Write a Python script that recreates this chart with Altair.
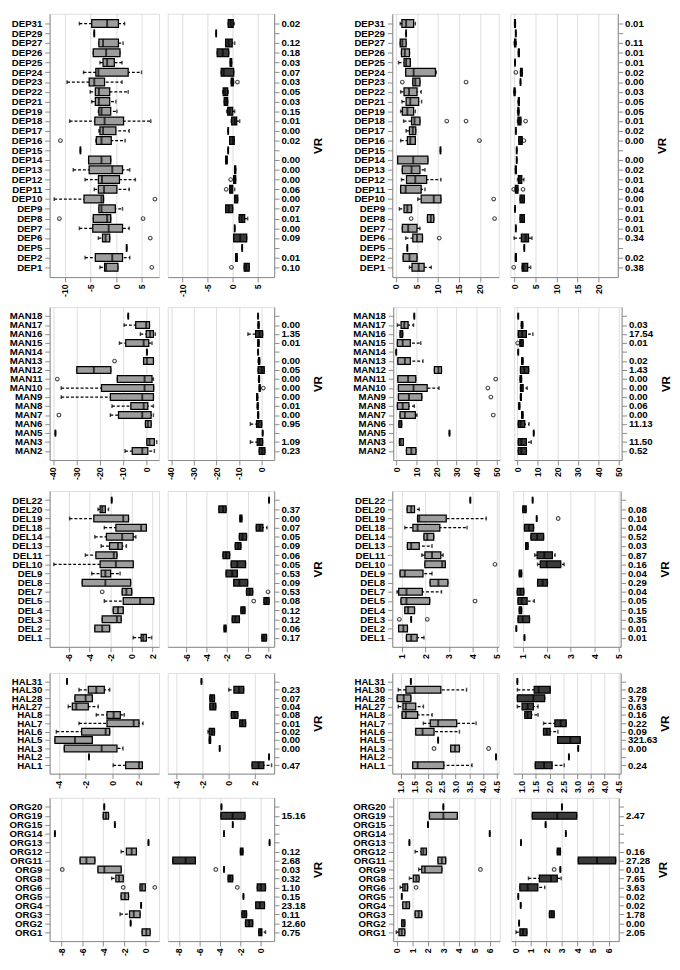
import altair as alt
import pandas as pd

FONT = "Liberation Sans"

# ---------------- DEP ----------------
DEP_CATS = ["DEP31", "DEP29", "DEP27", "DEP26", "DEP25", "DEP24", "DEP23", "DEP22", "DEP21",
            "DEP19", "DEP18", "DEP17", "DEP16", "DEP15", "DEP14", "DEP13", "DEP12", "DEP11",
            "DEP10", "DEP9", "DEP8", "DEP7", "DEP6", "DEP5", "DEP2", "DEP1"]
DEP_VR_A = ["0.02", "", "0.12", "0.18", "0.03", "0.07", "0.03", "0.05", "0.03", "0.15", "0.01",
            "0.00", "0.02", "", "0.00", "0.00", "0.00", "0.06", "0.00", "0.07", "0.01", "0.00",
            "0.09", "", "0.01", "0.10"]
DEP_VR_B = ["0.01", "", "0.11", "0.01", "0.01", "0.02", "0.00", "0.03", "0.05", "0.05", "0.01",
            "0.02", "0.00", "", "0.00", "0.02", "0.01", "0.04", "0.00", "0.01", "0.01", "0.01",
            "0.34", "", "0.02", "0.38"]
# each entry: [lower whisker, q1, median, q3, upper whisker]
DEP_A1 = [[-7.2, -4.8, -1.8, 0.4, 1.6], [-4.3, -4.3, -4.3, -4.3, -4.3], [-3.4, -3.4, -2.6, 0.4, 1.3],
          [-4.5, -4.5, -2.0, 0.7, 0.7], [-3.2, -2.6, -1.8, -0.4, 1.1], [-6.4, -4.0, -3.5, 2.3, 4.9],
          [-9.6, -5.3, -4.3, -2.3, 1.1], [-5.1, -4.1, -3.4, -1.3, 2.3], [-4.8, -4.1, -3.4, -1.3, -0.1],
          [-3.5, -3.4, -2.9, -1.1, 0.1], [-9.1, -4.2, -2.3, 1.4, 6.7], [-3.4, -3.2, -2.6, -0.1, 2.5],
          [-4.0, -3.9, -2.9, -1.0, 1.7], [-7.0, -7.0, -7.0, -7.0, -7.0], [-5.4, -5.4, -2.9, -1.1, -1.1],
          [-8.4, -5.3, -0.8, 1.2, 2.6], [-6.1, -3.5, -2.8, 0.6, 3.7], [-4.3, -3.5, -2.4, 0.1, 2.5],
          [-12.1, -6.3, -2.9, -2.5, -2.5], [-3.4, -3.4, -2.9, -0.2, 1.2], [-4.5, -4.5, -1.8, -1.1, -1.1],
          [-7.2, -4.6, -1.5, 1.2, 2.5], [-3.5, -2.7, -2.1, -1.3, -1.3], [2.0, 2.0, 2.0, 2.0, 2.0],
          [-6.1, -4.1, -0.8, 1.2, 2.6], [-3.2, -2.3, -2.0, 0.3, 0.3]]
DEP_A1_OUT = [("DEP16", -10.9), ("DEP10", 7.5), ("DEP8", -11.1), ("DEP8", 5.2), ("DEP6", 6.6), ("DEP1", 6.9)]
DEP_A2 = [[-0.9, -0.9, -0.4, 0.1, 0.3], [-3.3, -3.3, -3.3, -3.3, -3.3], [-1.4, -1.4, -0.8, -0.1, 0.4],
          [-3.1, -3.1, -2.0, -0.8, -0.8], [-0.5, -0.5, -0.4, -0.2, -0.2], [-2.3, -2.3, -1.8, 0.2, 0.2],
          [-0.3, -0.3, 0.0, 0.1, 0.2], [-2.0, -1.9, -1.5, -1.0, -0.9], [-1.7, -1.7, -1.3, -1.0, -1.0],
          [-1.2, -1.0, -0.6, 0.0, 0.4], [-0.3, -0.2, 0.4, 0.8, 1.4], [-0.9, -0.9, -0.9, -0.9, -0.9],
          [-0.6, -0.6, 0.0, 0.3, 0.3], [-0.9, -0.9, -0.9, -0.9, -0.9], [-1.4, -1.4, -1.2, -1.1, -1.1],
          [0.4, 0.4, 0.5, 0.6, 0.6], [0.2, 0.2, 0.4, 0.6, 0.6], [-0.6, -0.6, -0.3, 0.0, 0.4],
          [0.4, 0.4, 0.6, 1.0, 1.0], [-1.4, -1.4, -0.8, 0.0, 0.0], [1.3, 1.3, 1.8, 2.4, 3.0],
          [0.4, 0.4, 0.4, 0.4, 0.4], [0.2, 0.2, 1.5, 2.8, 2.8], [1.9, 1.9, 1.9, 1.9, 1.9],
          [0.6, 0.6, 0.7, 0.9, 0.9], [2.3, 2.3, 2.7, 3.3, 3.3]]
DEP_A2_OUT = [("DEP23", 0.95), ("DEP12", -0.4), ("DEP11", -1.3), ("DEP1", -0.25)]
DEP_B1 = [[1.0, 1.4, 2.4, 4.2, 4.6], [2.4, 2.4, 2.4, 2.4, 2.4], [1.0, 1.0, 1.5, 2.4, 2.4],
          [1.3, 1.3, 2.1, 3.2, 3.2], [0.6, 1.9, 2.4, 3.4, 3.4], [2.3, 2.3, 4.2, 9.4, 9.6],
          [4.0, 4.0, 4.6, 5.7, 5.7], [1.1, 1.9, 3.1, 5.0, 6.0], [1.4, 2.4, 3.4, 5.4, 6.1],
          [1.1, 1.5, 2.7, 4.2, 4.6], [1.8, 3.7, 4.4, 5.7, 5.7], [2.4, 3.2, 4.0, 4.7, 4.7],
          [1.1, 2.7, 3.4, 4.6, 4.6], [10.6, 10.6, 10.6, 10.6, 10.6], [0.4, 0.4, 4.1, 7.6, 7.6],
          [1.5, 1.5, 3.7, 5.7, 6.9], [1.3, 2.5, 4.6, 7.3, 10.7], [1.1, 1.1, 2.3, 6.0, 6.9],
          [5.2, 6.0, 9.0, 10.7, 10.7], [0.8, 1.9, 2.7, 3.7, 3.7], [7.5, 7.5, 8.3, 9.0, 9.0],
          [1.5, 1.5, 2.9, 5.0, 5.7], [2.3, 4.0, 5.0, 6.3, 6.3], [2.7, 2.7, 2.7, 2.7, 2.7],
          [1.7, 1.7, 3.2, 5.0, 5.0], [3.2, 3.8, 5.4, 6.7, 8.4]]
DEP_B1_OUT = [("DEP23", 1.5), ("DEP23", 16.7), ("DEP18", 12.1), ("DEP18", 16.7), ("DEP16", 19.9),
              ("DEP10", 23.3), ("DEP8", 3.6), ("DEP8", 23.5), ("DEP6", 10.3)]
DEP_B2 = [[0.1, 0.1, 0.2, 0.3, 0.3], [0.4, 0.4, 0.4, 0.4, 0.4], [0.0, 0.1, 0.2, 0.4, 0.5],
          [1.0, 1.0, 1.1, 1.2, 1.2], [0.2, 0.2, 0.2, 0.2, 0.2], [1.5, 1.5, 1.7, 1.9, 1.9],
          [1.5, 1.5, 1.5, 1.5, 1.5], [-0.1, 0.0, 0.1, 0.2, 0.3], [0.9, 1.0, 1.1, 1.2, 1.2],
          [0.8, 0.9, 1.0, 1.1, 1.2], [0.8, 0.9, 1.2, 1.6, 1.6], [0.4, 0.4, 0.4, 0.4, 0.4],
          [1.1, 1.1, 1.5, 1.9, 1.9], [0.6, 0.6, 0.6, 0.6, 0.6], [0.6, 0.6, 0.6, 0.6, 0.6],
          [0.3, 0.3, 0.4, 0.5, 0.5], [0.8, 1.0, 1.3, 1.8, 2.3], [0.2, 0.3, 0.6, 0.9, 0.9],
          [1.4, 1.4, 1.9, 2.4, 2.4], [0.2, 0.2, 0.2, 0.2, 0.2], [1.4, 1.4, 1.9, 2.4, 2.4],
          [0.4, 0.4, 0.4, 0.4, 0.4], [0.0, 1.7, 2.7, 3.4, 4.2], [2.4, 2.4, 2.4, 2.4, 2.4],
          [0.3, 0.3, 0.4, 0.5, 0.5], [1.9, 1.9, 2.2, 3.2, 3.9]]
DEP_B2_OUT = [("DEP24", 0.4), ("DEP18", 2.7), ("DEP16", 2.3), ("DEP11", -0.1), ("DEP11", 2.1), ("DEP1", -0.1)]

# ---------------- MAN ----------------
MAN_CATS = ["MAN18", "MAN17", "MAN16", "MAN15", "MAN14", "MAN13", "MAN12", "MAN11", "MAN10",
            "MAN9", "MAN8", "MAN7", "MAN6", "MAN5", "MAN3", "MAN2"]
MAN_VR_A = ["", "0.00", "1.35", "0.01", "", "0.00", "0.05", "0.00", "0.00", "0.00", "0.01", "0.00",
            "0.95", "", "1.09", "0.23"]
MAN_VR_B = ["", "0.03", "17.54", "0.01", "", "0.02", "1.43", "0.00", "0.00", "0.00", "0.06", "0.00",
            "11.13", "", "11.50", "0.52"]
MAN_A1 = [[-7.7, -7.7, -7.7, -7.7, -7.7], [-9.5, -4.5, 0.0, 1.4, 1.4], [-2.5, 0.0, 1.7, 3.1, 3.9],
          [-11.5, -8.8, -1.1, 1.1, 2.5], [0.3, 0.3, 0.3, 0.3, 0.3], [-1.1, -1.1, 0.3, 3.1, 3.1],
          [-29.8, -29.8, -22.5, -15.2, -15.2], [-12.4, -12.4, -0.7, 2.5, 3.1], [-36.5, -19.2, -0.7, 3.2, 3.2],
          [-36.5, -15.4, -1.7, 3.1, 3.1], [-14.7, -6.6, -1.1, 0.7, 3.1], [-15.4, -11.9, -1.7, 2.1, 3.1],
          [-0.3, -0.3, 0.7, 2.1, 2.1], [-39.0, -39.0, -39.0, -39.0, -39.0], [0.3, 0.3, 1.4, 3.5, 4.5],
          [-9.1, -6.0, -1.7, 0.7, 3.5]]
MAN_A1_OUT = [("MAN13", -13.6), ("MAN11", -38.2), ("MAN7", -37.5)]
MAN_A2 = [[-1.6, -1.6, -1.6, -1.6, -1.6], [-1.6, -1.6, -1.4, -1.2, -1.2], [-6.1, -2.7, -1.0, 0.4, 0.4],
          [-1.7, -1.7, -1.5, -1.2, -1.2], [-1.6, -1.6, -1.6, -1.6, -1.6], [-1.6, -1.4, -1.2, -0.9, -0.9],
          [-1.6, -1.6, 0.0, 1.1, 1.1], [-1.4, -1.3, -1.2, -1.0, -1.0], [-1.1, -1.1, -0.9, -0.7, -0.7],
          [-2.2, -2.2, -2.0, -1.8, -1.8], [-2.0, -1.9, -1.8, -1.6, -1.5], [-1.8, -1.7, -1.6, -1.4, -1.4],
          [-5.0, -2.3, -1.5, 0.0, 0.0], [0.4, 0.4, 0.4, 0.4, 0.4], [-5.0, -2.0, -1.0, 0.4, 0.4],
          [-1.1, -1.1, 0.2, 1.4, 1.4]]
MAN_A2_OUT = [("MAN10", 0.7)]
MAN_B1 = [[9.0, 9.0, 9.0, 9.0, 9.0], [0.6, 2.4, 4.0, 5.9, 8.6], [1.9, 1.9, 2.5, 3.2, 3.2],
          [0.6, 0.6, 3.2, 7.0, 12.2], [0.0, 0.0, 0.0, 0.0, 0.0], [0.8, 0.8, 4.3, 7.0, 13.3],
          [19.0, 19.0, 21.0, 22.5, 22.5], [0.8, 0.8, 5.9, 9.7, 9.7], [1.1, 1.1, 8.6, 15.4, 21.3],
          [1.1, 1.1, 6.3, 12.7, 12.7], [0.6, 0.6, 3.2, 6.3, 9.0], [1.9, 1.9, 4.3, 9.5, 10.3],
          [1.3, 1.3, 1.9, 2.7, 2.7], [26.5, 26.5, 26.5, 26.5, 26.5], [1.6, 1.6, 2.2, 3.5, 3.5],
          [5.1, 5.1, 7.5, 9.8, 9.8]]
MAN_B1_OUT = [("MAN11", 49.5), ("MAN10", 45.6), ("MAN9", 47.1), ("MAN7", 48.3)]
MAN_B2 = [[0.5, 0.5, 0.5, 0.5, 0.5], [2.0, 2.0, 2.4, 2.7, 2.7], [0.5, 0.5, 2.4, 4.5, 7.7],
          [1.3, 1.3, 1.9, 2.9, 2.9], [0.5, 0.5, 0.5, 0.5, 0.5], [2.2, 2.2, 2.5, 2.8, 2.8],
          [1.6, 1.6, 3.5, 5.6, 5.6], [1.4, 1.4, 1.8, 2.1, 2.1], [1.6, 1.6, 2.1, 2.9, 4.9],
          [1.6, 1.6, 1.8, 2.0, 2.0], [0.8, 0.8, 1.0, 1.2, 1.2], [2.2, 2.2, 2.5, 2.8, 2.8],
          [0.5, 0.5, 1.6, 3.7, 5.8], [8.1, 8.1, 8.1, 8.1, 8.1], [0.5, 0.5, 2.0, 4.5, 6.9],
          [0.5, 0.5, 2.0, 4.5, 4.5]]
MAN_B2_OUT = [("MAN15", 0.2)]

# ---------------- DEL ----------------
DEL_CATS = ["DEL22", "DEL20", "DEL19", "DEL18", "DEL14", "DEL13", "DEL11", "DEL10", "DEL9",
            "DEL8", "DEL7", "DEL5", "DEL4", "DEL3", "DEL2", "DEL1"]
DEL_VR_A = ["", "0.37", "0.00", "0.07", "0.05", "0.09", "0.06", "0.05", "0.53", "0.09", "0.53",
            "0.08", "0.12", "0.12", "0.06", "0.17"]
DEL_VR_B = ["", "0.08", "0.10", "0.04", "0.52", "0.03", "0.87", "0.16", "0.04", "0.29", "0.04",
            "0.05", "0.15", "0.35", "0.01", "0.01"]
DEL_A1 = [[-1.9, -1.9, -1.9, -1.9, -1.9], [-3.2, -3.0, -2.8, -2.5, -2.2], [-5.9, -3.6, -0.8, -0.3, -0.3],
          [-2.6, -1.5, 0.9, 1.4, 1.4], [-3.5, -2.4, -0.9, 0.15, 0.4], [-2.9, -2.1, -1.3, -0.9, -0.5],
          [-4.4, -3.4, -1.7, -1.4, -1.4], [-7.4, -3.0, -1.5, 0.15, 0.15], [-3.8, -2.9, -2.5, -2.0, -1.1],
          [-4.7, -4.7, -2.5, -0.1, -0.1], [-0.9, -0.9, -0.5, 0.0, 0.0], [-2.6, -0.8, 0.8, 2.1, 2.1],
          [-1.75, -1.75, -1.3, -0.8, -0.8], [-2.8, -2.8, -1.4, -1.0, -1.0], [-3.5, -3.5, -2.8, -2.1, -2.1],
          [0.15, 0.9, 1.1, 1.4, 1.9]]
DEL_A1_OUT = [("DEL7", -2.8)]
DEL_A2 = [[2.1, 2.1, 2.1, 2.1, 2.1], [-2.8, -2.8, -2.4, -2.1, -2.1], [-0.75, -0.75, -0.65, -0.55, -0.55],
          [0.85, 0.85, 1.2, 1.5, 1.9], [-0.8, -0.8, -0.5, -0.1, -0.1], [-1.2, -1.2, -0.9, -0.65, -0.65],
          [-2.4, -2.4, -2.1, -1.75, -1.75], [-1.6, -1.6, -1.0, -0.2, -0.2], [-2.1, -2.1, -1.5, -1.0, -1.0],
          [-1.35, -1.35, -0.8, 0.0, 0.0], [-0.1, -0.1, 0.2, 0.5, 0.5], [1.6, 1.6, 1.85, 2.1, 2.1],
          [-0.65, -0.65, -0.45, -0.25, -0.25], [-1.5, -1.5, -1.2, -0.8, -0.8], [-2.3, -2.3, -2.2, -2.1, -2.1],
          [1.4, 1.4, 1.6, 1.85, 1.85]]
DEL_A2_OUT = [("DEL7", 2.0), ("DEL5", 0.6)]
DEL_B1 = [[3.9, 3.9, 3.9, 3.9, 3.9], [1.23, 1.23, 1.40, 1.54, 1.74], [1.67, 1.67, 1.74, 2.88, 4.57],
          [1.13, 1.47, 1.67, 2.61, 3.76], [1.94, 1.94, 2.08, 2.35, 2.35], [1.24, 1.24, 1.4, 1.74, 2.28],
          [1.85, 1.98, 2.28, 2.65, 2.75], [1.98, 1.98, 2.71, 2.84, 2.84], [0.93, 0.93, 1.13, 1.9, 2.28],
          [2.2, 2.2, 2.55, 2.95, 2.95], [0.8, 0.87, 1.2, 1.87, 2.68], [0.97, 0.97, 1.2, 2.18, 2.18],
          [1.13, 1.13, 1.27, 1.54, 1.54], [1.4, 1.4, 1.4, 1.4, 1.4], [0.87, 0.87, 1.07, 1.24, 1.24],
          [1.2, 1.2, 1.4, 1.65, 1.94]]
DEL_B1_OUT = [("DEL10", 4.94), ("DEL5", 4.1), ("DEL3", 0.9), ("DEL3", 2.08)]
DEL_B2 = [[1.41, 1.41, 1.41, 1.41, 1.41], [1.0, 1.0, 1.07, 1.14, 1.14], [1.58, 1.58, 1.58, 1.58, 1.58],
          [1.07, 1.07, 1.25, 1.45, 1.45], [1.34, 1.34, 1.6, 1.87, 1.87], [1.12, 1.12, 1.17, 1.22, 1.22],
          [1.5, 1.6, 1.9, 2.24, 2.35], [1.62, 1.73, 2.0, 2.59, 2.73], [0.85, 0.85, 0.9, 0.95, 0.95],
          [1.62, 1.62, 1.83, 2.03, 2.03], [0.77, 0.77, 0.9, 1.04, 1.04], [0.8, 0.8, 0.95, 1.18, 1.48],
          [0.85, 0.85, 0.9, 0.95, 0.95], [0.8, 0.8, 1.0, 1.28, 1.28], [0.73, 0.73, 0.73, 0.73, 0.73],
          [1.07, 1.07, 1.07, 1.07, 1.07]]
DEL_B2_OUT = [("DEL19", 2.48)]

# ---------------- HAL ----------------
HAL_CATS = ["HAL31", "HAL30", "HAL28", "HAL27", "HAL8", "HAL7", "HAL6", "HAL5", "HAL3", "HAL2", "HAL1"]
HAL_VR_A = ["", "0.23", "0.07", "0.04", "0.08", "0.01", "0.02", "0.00", "0.00", "", "0.47"]
HAL_VR_B = ["", "0.28", "3.79", "0.63", "0.16", "0.22", "0.09", "321.63", "0.00", "", "0.24"]
HAL_A1 = [[-3.4, -3.4, -3.4, -3.4, -3.4], [-2.5, -1.8, -1.2, -0.6, -0.2], [-2.8, -2.8, -2.0, -1.5, -1.5],
          [-3.3, -3.0, -2.7, -1.8, -1.05], [-1.2, -0.4, 0.1, 0.6, 0.9], [-2.5, -0.4, 1.6, 2.0, 2.3],
          [-4.2, -2.3, -0.5, -0.2, -0.2], [-4.3, -4.3, -2.8, -1.5, -1.5], [-3.6, -3.6, -0.8, 0.35, 0.8],
          [-1.75, -1.75, -1.75, -1.75, -1.75], [0.07, 1.0, 2.0, 2.25, 2.25]]
HAL_A1_OUT = []
HAL_A2 = [[-2.1, -2.1, -2.1, -2.1, -2.1], [0.0, 0.4, 0.8, 1.15, 1.15], [-1.45, -1.45, -1.3, -1.1, -1.1],
          [-1.45, -1.45, -1.2, -1.0, -1.0], [0.2, 0.2, 0.45, 0.7, 0.7], [0.85, 0.85, 1.05, 1.3, 1.3],
          [-1.6, -1.5, -1.3, -1.1, -1.1], [-1.5, -1.5, -1.45, -1.4, -1.4], [-0.7, -0.7, -0.7, -0.7, -0.7],
          [3.1, 3.1, 3.1, 3.1, 3.1], [1.8, 1.8, 2.3, 2.7, 3.3]]
HAL_A2_OUT = []
HAL_B1 = [[1.36, 1.36, 1.36, 1.36, 1.36], [0.9, 1.18, 1.5, 2.46, 3.4], [0.86, 0.86, 1.1, 1.36, 1.36],
          [0.9, 1.07, 1.18, 1.54, 1.82], [1.04, 1.04, 1.18, 1.61, 2.14], [1.82, 2.07, 2.36, 3.04, 3.75],
          [1.54, 1.54, 1.79, 2.21, 3.14], [2.36, 2.36, 2.36, 2.36, 2.36], [2.82, 2.82, 2.98, 3.14, 3.14],
          [4.48, 4.48, 4.48, 4.48, 4.48], [1.43, 1.43, 1.61, 2.57, 3.6]]
HAL_B1_OUT = [("HAL3", 2.21), ("HAL3", 4.21)]
HAL_B2 = [[0.83, 0.83, 0.83, 0.83, 0.83], [0.83, 1.44, 1.6, 2.02, 2.02], [0.83, 0.83, 1.41, 1.82, 1.82],
          [0.83, 1.0, 1.2, 1.41, 1.58], [1.1, 1.1, 1.2, 1.34, 1.58], [1.78, 2.19, 2.4, 2.6, 2.6],
          [1.78, 1.78, 1.9, 2.02, 2.3], [2.29, 2.29, 2.75, 3.11, 3.11], [3.04, 3.04, 3.04, 3.04, 3.04],
          [2.7, 2.7, 2.7, 2.7, 2.7], [1.48, 1.48, 1.8, 2.09, 2.53]]
HAL_B2_OUT = []

# ---------------- ORG ----------------
ORG_CATS = ["ORG20", "ORG19", "ORG15", "ORG14", "ORG13", "ORG12", "ORG11", "ORG9", "ORG8",
            "ORG6", "ORG5", "ORG4", "ORG3", "ORG2", "ORG1"]
ORG_VR_A = ["", "15.16", "", "", "", "0.12", "2.68", "0.03", "0.32", "1.10", "0.15", "23.18",
            "0.11", "12.60", "0.75"]
ORG_VR_B = ["", "2.47", "", "", "", "0.16", "27.28", "0.01", "7.65", "3.63", "0.02", "0.02",
            "1.78", "0.00", "2.05"]
ORG_A1 = [[-3.9, -3.9, -3.9, -3.9, -3.9], [-4.0, -4.0, -3.75, -3.5, -3.5], [-2.9, -2.9, -2.9, -2.9, -2.9],
          [-8.6, -8.6, -8.6, -8.6, -8.6], [0.3, 0.3, 0.3, 0.3, 0.3], [-2.3, -1.8, -1.3, -0.85, -0.85],
          [-6.2, -6.2, -5.6, -4.8, -4.8], [-4.5, -4.5, -3.9, -2.3, -2.3], [-3.2, -2.8, -2.5, -2.1, -2.1],
          [-0.5, -0.5, -0.3, 0.0, 0.0], [-2.3, -2.3, -1.95, -1.6, -1.6], [-0.4, -0.4, -0.4, -0.4, -0.4],
          [-2.4, -1.5, -1.1, -0.5, -0.5], [-1.4, -1.4, -1.4, -1.4, -1.4], [-0.3, -0.3, 0.1, 0.45, 0.45]]
ORG_A1_OUT = [("ORG9", -7.9), ("ORG6", -2.1), ("ORG6", 0.9)]
ORG_A2 = [[-3.85, -3.85, -3.85, -3.85, -3.85], [-3.9, -3.9, -2.75, -1.55, -1.55], [-2.75, -2.75, -2.75, -2.75, -2.75],
          [-3.6, -3.6, -3.6, -3.6, -3.6], [0.85, 0.85, 0.85, 0.85, 0.85], [-2.0, -2.0, -1.85, -1.75, -1.75],
          [-8.6, -8.6, -7.35, -6.4, -6.4], [-3.6, -3.6, -3.6, -3.6, -3.6], [-3.2, -3.2, -3.0, -2.75, -2.75],
          [-0.35, -0.35, 0.0, 0.45, 0.45], [-1.7, -1.7, -1.7, -1.7, -1.7], [-0.5, -0.5, -0.1, 0.35, 0.35],
          [-1.85, -1.85, -1.6, -1.4, -1.4], [-1.5, -1.5, -1.15, -0.8, -0.8], [-0.2, -0.2, 0.0, 0.1, 0.45]]
ORG_A2_OUT = [("ORG9", -4.4), ("ORG6", -2.3)]
ORG_B1 = [[3.0, 3.0, 3.0, 3.0, 3.0], [2.1, 2.1, 3.0, 3.9, 3.9], [2.0, 2.0, 2.0, 2.0, 2.0],
          [6.0, 6.0, 6.0, 6.0, 6.0], [0.8, 0.8, 0.8, 0.8, 0.8], [1.17, 1.55, 1.7, 1.9, 1.9],
          [2.65, 2.65, 2.9, 3.15, 3.15], [1.4, 1.6, 1.8, 2.9, 2.9], [0.8, 1.05, 1.25, 1.42, 1.42],
          [0.2, 0.37, 0.5, 0.68, 0.68], [0.3, 0.3, 0.3, 0.3, 0.3], [0.37, 0.37, 0.6, 0.8, 0.8],
          [1.17, 1.17, 1.4, 1.6, 1.6], [0.3, 0.3, 0.4, 0.5, 0.5], [-0.05, 0.12, 0.3, 0.5, 0.5]]
ORG_B1_OUT = [("ORG9", 5.4), ("ORG6", 1.23)]
ORG_B2 = [[3.0, 3.0, 3.0, 3.0, 3.0], [1.1, 1.1, 2.7, 3.95, 3.95], [1.95, 1.95, 1.95, 1.95, 1.95],
          [3.25, 3.25, 3.25, 3.25, 3.25], [0.37, 0.37, 0.37, 0.37, 0.37], [2.7, 2.7, 2.8, 2.9, 2.9],
          [4.05, 4.05, 5.25, 6.45, 6.45], [2.9, 2.9, 2.9, 2.9, 2.9], [0.85, 1.55, 2.3, 2.7, 2.95],
          [0.3, 0.3, 0.8, 1.45, 1.9], [0.2, 0.2, 0.2, 0.2, 0.2], [0.35, 0.35, 0.35, 0.35, 0.35],
          [2.2, 2.2, 2.35, 2.5, 2.5], [0.25, 0.25, 0.25, 0.25, 0.25], [0.05, 0.3, 0.5, 0.75, 0.75]]
ORG_B2_OUT = [("ORG9", 2.5)]

# ---------------- axes (ticks / domains) ----------------
DEP_TICKS_A, DEP_DOM_A = [-10, -5, 0, 5], [-13.0, 8.3]
DEP_TICKS_B, DEP_DOM_B = [0, 5, 10, 15, 20], [-0.9, 24.5]
MAN_TICKS_A, MAN_DOM_A = [-40, -30, -20, -10, 0], [-41.5, 5.5]
MAN_TICKS_B, MAN_DOM_B = [0, 10, 20, 30, 40, 50], [-1.5, 51.5]
DEL_TICKS_A, DEL_DOM_A = [-6, -4, -2, 0, 2], [-7.8, 2.6]
DEL_TICKS_B, DEL_DOM_B = [1, 2, 3, 4, 5], [0.6, 5.1]
HAL_TICKS_A, HAL_DOM_A = [-4, -2, 0, 2], [-4.7, 3.5]
HAL_TICKS_B, HAL_DOM_B = [1.0, 1.5, 2.0, 2.5, 3.0, 3.5, 4.0, 4.5], [0.68, 4.58]
ORG_TICKS_A, ORG_DOM_A = [-8, -6, -4, -2, 0], [-9.1, 1.3]
ORG_TICKS_B, ORG_DOM_B = [0, 1, 2, 3, 4, 5, 6], [-0.25, 6.65]

LIGHT = "#9d9d9d"
DARK = "#3a3a3a"


def panel(cats, stats, outs, dom, ticks, width, height, pad, bsize, fill, side, vr=None, dec=False):
    df = pd.DataFrame([{"cat": c, "lo": s[0], "q1": s[1], "med": s[2], "q3": s[3], "hi": s[4]}
                       for c, s in zip(cats, stats)])
    if side == "left":
        yaxis = alt.Axis(orient="left", title=None, labelFontSize=10, labelFontWeight="bold",
                         labelPadding=3, minExtent=41, maxExtent=41)
    else:
        arr_c = "[" + ",".join("'%s'" % c for c in cats) + "]"
        arr_v = "[" + ",".join("'%s'" % v for v in vr) + "]"
        yaxis = alt.Axis(orient="right", title="VR", titleAngle=270, titleBaseline="bottom",
                         titleAlign="center", titleX=52, titleY=height / 2,
                         titleFont=FONT, titleFontSize=12, titleFontWeight="bold", titleColor="black",
                         labelFontSize=10, labelFontWeight="bold", labelPadding=2,
                         labelExpr="%s[indexof(%s, datum.value)]" % (arr_v, arr_c),
                         minExtent=28, maxExtent=28)
    y = alt.Y("cat:N", sort=cats, scale=alt.Scale(type="point", domain=cats, padding=pad), axis=yaxis)
    lab = "format(datum.value, '.1f')" if dec else "'' + datum.value"
    xaxis = alt.Axis(values=ticks, labelAngle=270, labelExpr=lab, title=None, labelFontSize=9,
                     labelFontWeight="bold", labelPadding=2, minExtent=18, maxExtent=18)
    xs = alt.Scale(domain=dom, nice=False, zero=False)

    def X(f):
        return alt.X(f, type="quantitative", scale=xs, axis=xaxis)

    base = alt.Chart(df)
    layers = [
        base.mark_rule(strokeDash=[3, 2], strokeWidth=1.3, color="black", clip=True).encode(
            x=X("lo"), x2=alt.X2("hi"), y=y),
        base.mark_tick(orient="vertical", size=4, thickness=1.5, color="black", clip=True).encode(
            x=X("lo"), y=y),
        base.mark_tick(orient="vertical", size=4, thickness=1.5, color="black", clip=True).encode(
            x=X("hi"), y=y),
        base.mark_bar(size=bsize, fill=fill, stroke="black", strokeWidth=1.3, clip=True).encode(
            x=X("q1"), x2=alt.X2("q3"), y=y),
        base.mark_tick(orient="vertical", size=bsize, thickness=2, color="black", clip=True).encode(
            x=X("med"), y=y),
    ]
    if outs:
        od = pd.DataFrame([{"cat": c, "v": v} for c, v in outs])
        layers.append(alt.Chart(od).mark_point(shape="circle", filled=False, size=14, strokeWidth=1.2,
                                               color="black", clip=True).encode(x=X("v"), y=y))
    return alt.layer(*layers).properties(width=width, height=height)


def row(cats, vra, vrb, a1, a1o, a2, a2o, b1, b1o, b2, b2o, ta, da, tb, db, height, pad, bsize, dec=False):
    pa1 = panel(cats, a1, a1o, da, ta, 113, height, pad, bsize, LIGHT, "left")
    pa2 = panel(cats, a2, a2o, da, ta, 110, height, pad, bsize, DARK, "right", vra)
    pb1 = panel(cats, b1, b1o, db, tb, 110, height, pad, bsize, LIGHT, "left", dec=dec)
    pb2 = panel(cats, b2, b2o, db, tb, 111, height, pad, bsize, DARK, "right", vrb, dec=dec)
    return alt.hconcat(alt.hconcat(pa1, pa2, spacing=7), alt.hconcat(pb1, pb2, spacing=10), spacing=28)


r1 = row(DEP_CATS, DEP_VR_A, DEP_VR_B, DEP_A1, DEP_A1_OUT, DEP_A2, DEP_A2_OUT, DEP_B1, DEP_B1_OUT,
         DEP_B2, DEP_B2_OUT, DEP_TICKS_A, DEP_DOM_A, DEP_TICKS_B, DEP_DOM_B, 272, 1.5, 8)
r2 = row(MAN_CATS, MAN_VR_A, MAN_VR_B, MAN_A1, MAN_A1_OUT, MAN_A2, MAN_A2_OUT, MAN_B1, MAN_B1_OUT,
         MAN_B2, MAN_B2_OUT, MAN_TICKS_A, MAN_DOM_A, MAN_TICKS_B, MAN_DOM_B, 158, 1.0, 7)
r3 = row(DEL_CATS, DEL_VR_A, DEL_VR_B, DEL_A1, DEL_A1_OUT, DEL_A2, DEL_A2_OUT, DEL_B1, DEL_B1_OUT,
         DEL_B2, DEL_B2_OUT, DEL_TICKS_A, DEL_DOM_A, DEL_TICKS_B, DEL_DOM_B, 161, 1.25, 7)
r4 = row(HAL_CATS, HAL_VR_A, HAL_VR_B, HAL_A1, HAL_A1_OUT, HAL_A2, HAL_A2_OUT, HAL_B1, HAL_B1_OUT,
         HAL_B2, HAL_B2_OUT, HAL_TICKS_A, HAL_DOM_A, HAL_TICKS_B, HAL_DOM_B, 104, 1.0, 7, dec=True)
r5 = row(ORG_CATS, ORG_VR_A, ORG_VR_B, ORG_A1, ORG_A1_OUT, ORG_A2, ORG_A2_OUT, ORG_B1, ORG_B1_OUT,
         ORG_B2, ORG_B2_OUT, ORG_TICKS_A, ORG_DOM_A, ORG_TICKS_B, ORG_DOM_B, 148, 1.2, 7)

lower = alt.vconcat(r4, r5, spacing=3)
lower = alt.vconcat(r3, lower, spacing=7)
lower = alt.vconcat(r2, lower, spacing=10)
chart = alt.vconcat(r1, lower, spacing=9).properties(
    padding={"top": -11, "left": 0, "right": 0, "bottom": 0}
).configure_view(
    stroke="black", strokeWidth=2
).configure_axis(
    labelFont=FONT, labelFontWeight="bold", labelColor="black", tickColor="black",
    tickWidth=1.5, tickSize=4, domain=False, grid=False
).configure(background="white")

chart.save("out.html", embed_options={"renderer": "svg", "actions": False})
